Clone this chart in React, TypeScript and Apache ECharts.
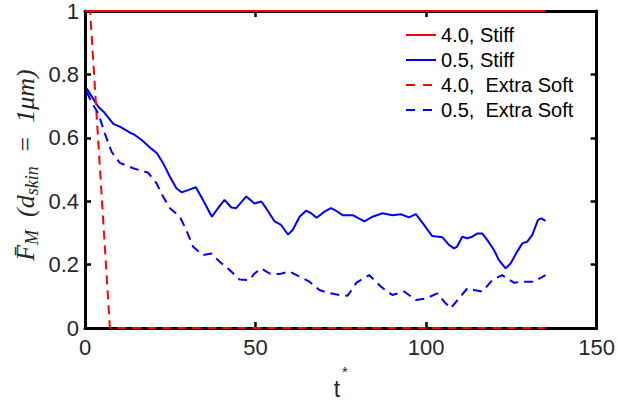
import React, { useEffect, useRef } from "react";
import * as echarts from "echarts";

// Normalised force F_M over dimensionless time t*, for two particle sizes and two skin stiffnesses
const xTicks = [0, 50, 100, 150];
const yTicks = [0, 0.2, 0.4, 0.6, 0.8, 1];

const seriesNames = ["4.0, Stiff", "0.5, Stiff", "4.0,  Extra Soft", "0.5,  Extra Soft"];

const stiff40: [number, number][] = [
  [0, 1], [135, 1],
];

const stiff05: [number, number][] = [
  [0.5, 0.755], [2.0, 0.73], [3.9, 0.698], [5.8, 0.678], [8.3, 0.644], [10.2, 0.635],
  [13.2, 0.616], [14.6, 0.609], [16.6, 0.593], [19.5, 0.565], [21.1, 0.551], [22.9, 0.52],
  [24.9, 0.477], [26.8, 0.441], [28.3, 0.428], [30.2, 0.435], [32.5, 0.444], [34.6, 0.404],
  [37.2, 0.351], [39.0, 0.378], [40.9, 0.404], [42.9, 0.38], [44.3, 0.378], [47.3, 0.415],
  [49.7, 0.393], [51.7, 0.399], [53.1, 0.378], [55.6, 0.336], [57.5, 0.325], [59.5, 0.295],
  [60.9, 0.309], [62.9, 0.351], [64.8, 0.37], [66.3, 0.362], [67.9, 0.348], [70.2, 0.367],
  [72.1, 0.378], [73.6, 0.37], [75.5, 0.356], [78.5, 0.356], [81.9, 0.336], [84.3, 0.351],
  [87.2, 0.362], [90.1, 0.356], [92.6, 0.359], [95.0, 0.349], [97.0, 0.359], [99.4, 0.325],
  [101.8, 0.29], [104.8, 0.286], [106.7, 0.262], [108.2, 0.251], [109.1, 0.257], [110.6, 0.288],
  [112.1, 0.283], [113.5, 0.288], [115.0, 0.298], [116.5, 0.298], [117.9, 0.278], [119.9, 0.246],
  [121.3, 0.215], [123.3, 0.188], [124.8, 0.204], [126.7, 0.241], [128.2, 0.267], [129.6, 0.272],
  [131.1, 0.293], [132.8, 0.341], [133.8, 0.346], [135.0, 0.338],
];

const soft40: [number, number][] = [
  [0, 1], [1.5, 1], [7.3, 0], [135, 0],
];

const soft05: [number, number][] = [
  [0.5, 0.745], [2.0, 0.71], [3.9, 0.677], [5.8, 0.614], [7.8, 0.556], [10.2, 0.521],
  [14.1, 0.504], [18.5, 0.49], [21.0, 0.456], [22.9, 0.414], [24.9, 0.378], [27.8, 0.351],
  [29.7, 0.309], [31.7, 0.256], [34.6, 0.23], [37.0, 0.235], [39.5, 0.209], [42.4, 0.183],
  [45.3, 0.153], [48.2, 0.151], [49.7, 0.172], [51.7, 0.188], [54.1, 0.172], [57.0, 0.17],
  [59.9, 0.178], [62.9, 0.162], [65.8, 0.146], [68.7, 0.12], [71.1, 0.111], [74.6, 0.104],
  [77.0, 0.102], [79.6, 0.143], [83.3, 0.167], [86.8, 0.13], [90.1, 0.104], [93.6, 0.115],
  [97.0, 0.088], [99.9, 0.093], [103.3, 0.109], [105.3, 0.083], [107.2, 0.062], [109.6, 0.093],
  [112.1, 0.125], [114.0, 0.12], [116.5, 0.115], [119.4, 0.151], [122.3, 0.167], [125.7, 0.143],
  [128.7, 0.146], [131.6, 0.146], [135.0, 0.167],
];

const RED = "#ff0000";
const BLUE = "#0000ff";
const SANS = "'Liberation Sans', Arial, Helvetica, sans-serif";
const SERIF = "'Liberation Serif', 'Times New Roman', serif";
const TICK_COLOR = "#262626";
const PLOT_DASH = [9, 6];
const LEGEND_DASH = [9, 8];

function fmtY(v: number): string {
  if (Math.abs(v) < 1e-9) return "0";
  if (Math.abs(v - 1) < 1e-9) return "1";
  return v.toFixed(1);
}

export default function App() {
  const ref = useRef<HTMLDivElement>(null);

  useEffect(() => {
    if (!ref.current) return;
    const chart = echarts.init(ref.current, undefined, { renderer: "svg" });

    const axisBase = {
      type: "value" as const,
      axisLine: { show: true, onZero: false, lineStyle: { color: "#000", width: 3 } },
      axisTick: { show: true, inside: true, length: 6, lineStyle: { color: "#000", width: 2.5 } },
      splitLine: { show: false },
    };

    const line = (name: string, data: [number, number][], color: string, dashed: boolean) => ({
      name,
      type: "line" as const,
      data,
      xAxisIndex: 0,
      yAxisIndex: 0,
      showSymbol: false,
      symbol: "none",
      clip: false,
      z: 5,
      lineStyle: { color, width: 2, type: dashed ? PLOT_DASH : "solid" },
      itemStyle: { color },
    });

    const legendItem = (name: string, color: string, dashed: boolean) => ({
      name,
      itemStyle: { color: "transparent", borderWidth: 0, opacity: 0 },
      lineStyle: { color, width: 2, type: dashed ? LEGEND_DASH : "solid" },
    });

    chart.setOption({
      animation: false,
      backgroundColor: "#ffffff",
      grid: { left: 85, right: 20, top: 11, bottom: 75, containLabel: false },
      xAxis: [
        {
          ...axisBase,
          position: "bottom",
          min: xTicks[0],
          max: xTicks[xTicks.length - 1],
          interval: xTicks[1] - xTicks[0],
          axisLabel: { color: TICK_COLOR, fontSize: 22, fontFamily: SANS, margin: 8 },
        },
        {
          ...axisBase,
          position: "top",
          min: xTicks[0],
          max: xTicks[xTicks.length - 1],
          interval: xTicks[1] - xTicks[0],
          axisLabel: { show: false },
        },
      ],
      yAxis: [
        {
          ...axisBase,
          position: "left",
          min: yTicks[0],
          max: yTicks[yTicks.length - 1],
          interval: yTicks[1] - yTicks[0],
          axisLabel: { color: TICK_COLOR, fontSize: 22, fontFamily: SANS, margin: 6, formatter: fmtY },
        },
        {
          ...axisBase,
          position: "right",
          min: yTicks[0],
          max: yTicks[yTicks.length - 1],
          interval: yTicks[1] - yTicks[0],
          axisLabel: { show: false },
        },
      ],
      legend: {
        orient: "vertical",
        left: 405,
        top: 25,
        itemWidth: 30,
        itemHeight: 14,
        itemGap: 5,
        padding: 0,
        itemStyle: { color: "transparent", borderWidth: 0, opacity: 0 },
        textStyle: { color: "#000", fontSize: 20, fontFamily: SANS },
        data: [
          legendItem(seriesNames[0], RED, false),
          legendItem(seriesNames[1], BLUE, false),
          legendItem(seriesNames[2], RED, true),
          legendItem(seriesNames[3], BLUE, true),
        ],
      },
      series: [
        line(seriesNames[0], stiff40, RED, false),
        line(seriesNames[1], stiff05, BLUE, false),
        line(seriesNames[2], soft40, RED, true),
        line(seriesNames[3], soft05, BLUE, true),
      ],
      graphic: [
        {
          type: "text",
          x: 337,
          y: 389,
          style: {
            text: "t",
            font: `23px ${SANS}`,
            fill: TICK_COLOR,
            align: "center",
            verticalAlign: "middle",
          },
        },
        {
          type: "text",
          x: 345,
          y: 371,
          style: {
            text: "*",
            font: `15px ${SANS}`,
            fill: TICK_COLOR,
            align: "center",
            verticalAlign: "middle",
          },
        },
        {
          type: "text",
          x: 25,
          y: 165,
          rotation: Math.PI / 2,
          style: {
            text: "{m|F\u0304}{s|M}{m|  (d}{s|skin}{m|  =  1}{m|\u03bc}{m|m)}",
            align: "center",
            verticalAlign: "middle",
            fill: TICK_COLOR,
            rich: {
              m: { fontFamily: SERIF, fontStyle: "italic", fontSize: 26, lineHeight: 32, verticalAlign: "middle", fill: TICK_COLOR },
              s: { fontFamily: SERIF, fontStyle: "italic", fontSize: 18, lineHeight: 32, verticalAlign: "bottom", fill: TICK_COLOR },
            },
          },
        },
      ],
    });

    return () => chart.dispose();
  }, []);

  return <div ref={ref} style={{ width: 618, height: 403, position: "absolute", left: 0, top: 0 }} />;
}
